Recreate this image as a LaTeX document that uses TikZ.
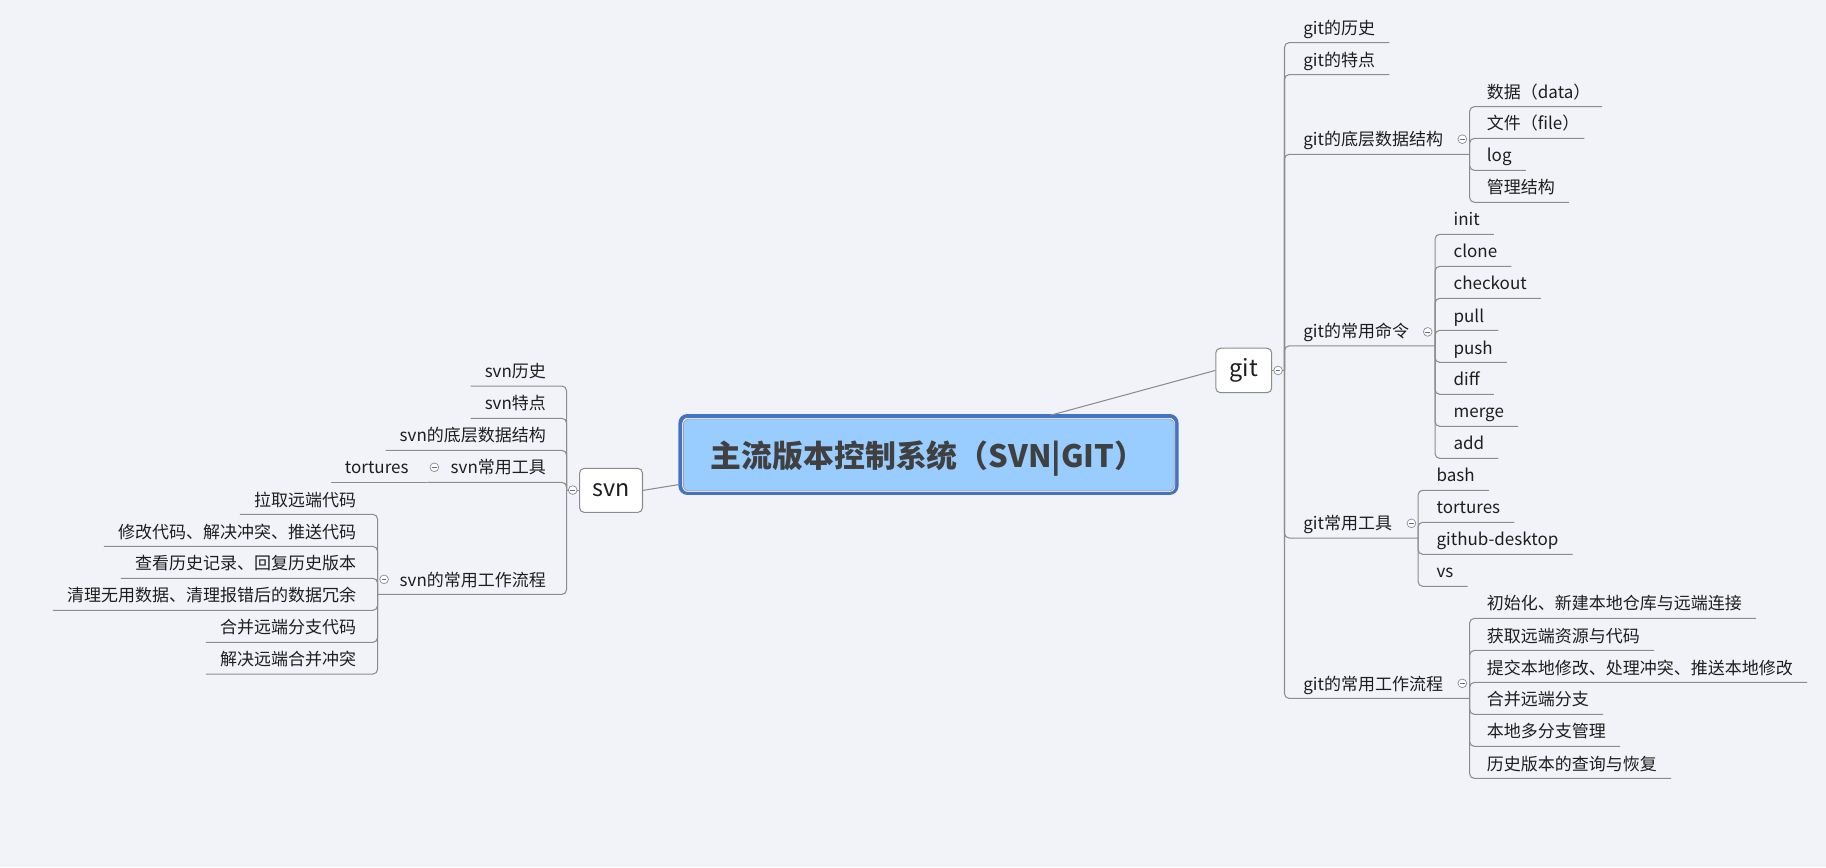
\documentclass[tikz,border=0pt]{standalone}
\usepackage{fontspec}
\setmainfont{Noto Sans CJK SC}
\definecolor{bg}{HTML}{F2F3F8}
\definecolor{linegray}{HTML}{8C8C8C}
\definecolor{txt}{HTML}{1E1E1E}
\definecolor{rootfill}{HTML}{99CCFF}
\definecolor{rootborder}{HTML}{4472C4}
\definecolor{roottext}{HTML}{404040}
\definecolor{minuscol}{HTML}{5070C0}
\begin{document}
\begin{tikzpicture}[x=1pt,y=-1pt,
  conn/.style={draw=linegray, line width=0.9pt, rounded corners=4pt},
  leaf/.style={inner xsep=0pt, inner ysep=0pt, text depth=7pt, text=txt, font=\fontsize{14.6}{17}\selectfont},
  rleaf/.style={leaf, anchor=south west},
  lleaf/.style={leaf, anchor=south east},
  topic/.style={draw=linegray, fill=white, rounded corners=4pt, line width=0.9pt, text=txt, font=\fontsize{20}{24}\selectfont, inner sep=0pt},
  toggle/.style={circle, draw=linegray, fill=white, line width=0.6pt, minimum size=7.5pt, inner sep=0pt,
    path picture={\draw[minuscol, line width=0.6pt] ([xshift=-2pt]path picture bounding box.center) -- ([xshift=2pt]path picture bounding box.center);}}
]
\fill[bg] (0,0) rectangle (1568,744.5);
\useasboundingbox (0,0) rectangle (1568,744.5);

% ---------- root ----------
\draw[rootborder, line width=3.4pt, rounded corners=6pt] (584.3,357.2) rectangle (1010.3,423.3);
\fill[white, rounded corners=5pt] (586,359) rectangle (1009,422.4);
\node[draw=linegray!80, fill=rootfill, rounded corners=5pt, line width=0.7pt,
      minimum width=421.6pt, minimum height=61.8pt, inner sep=0pt] (root) at (797.6,390.7) {};
\node[text=roottext, font=\bfseries\fontsize{26.5}{30}\selectfont, inner sep=0pt] (title) at (797,393.5) {主流版本控制系统（SVN|GIT）};

% ---------- main topics ----------
\node[topic, minimum width=48pt, minimum height=38.2pt] (git) at (1068,318.1) {git};
\node[topic, minimum width=54pt, minimum height=37.8pt] (svn) at (524.7,421.1) {svn};
\coordinate (rg) at (902,356.6);
\coordinate (rs) at (583.5,416);
\draw[linegray, line width=0.9pt] (rg) -- (git.west);
\draw[linegray, line width=0.9pt] (svn.east) -- (rs);

% ---------- git branch ----------
\coordinate (gJ) at (1103,318.1);
\draw[linegray, line width=0.9pt] (git.east) -- (gJ);

\node[rleaf] (g1) at (1119,36.6) {git的历史};
\node[rleaf] (g2) at (1119,64.1) {git的特点};
\node[rleaf] (g3) at (1119,132.5) {git的底层数据结构};
\node[rleaf] (g4) at (1119,297) {git的常用命令};
\node[rleaf] (g5) at (1119,462) {git常用工具};
\node[rleaf] (g6) at (1119,599.7) {git的常用工作流程};
\draw[conn] (gJ) |- ([xshift=12pt]g1.south east);
\draw[conn] (gJ) |- ([xshift=12pt]g2.south east);
\coordinate (g3J) at (1262,132.5);
\coordinate (g4J) at (1232.3,297);
\coordinate (g5J) at (1217.7,462);
\coordinate (g6J) at (1262,599.7);
\draw[conn] (gJ) |- (g3J);
\draw[conn] (gJ) |- (g4J);
\draw[conn] (gJ) |- (g5J);
\draw[conn] (gJ) |- (g6J);

% git data structure
\node[rleaf] (g31) at (1276.6,91.6) {数据（data）};
\node[rleaf] (g32) at (1276.6,118.8) {文件（file）};
\node[rleaf] (g33) at (1276.6,146.3) {log};
\node[rleaf] (g34) at (1276.6,173.7) {管理结构};
\draw[conn] (g3J) |- ([xshift=10pt]g31.south east);
\draw[conn] (g3J) |- ([xshift=4pt]g32.south east);
\draw[conn] (g3J) |- ([xshift=12pt]g33.south east);
\draw[conn] (g3J) |- ([xshift=12pt]g34.south east);

% git commands
\node[rleaf] (g41) at (1248,201.2) {init};
\node[rleaf] (g42) at (1248,228.7) {clone};
\node[rleaf] (g43) at (1248,256.2) {checkout};
\node[rleaf] (g44) at (1248,283.7) {pull};
\node[rleaf] (g45) at (1248,311.2) {push};
\node[rleaf] (g46) at (1248,338.6) {diff};
\node[rleaf] (g47) at (1248,366.1) {merge};
\node[rleaf] (g48) at (1248,393.6) {add};
\foreach \c in {g41,g42,g43,g44,g45,g46,g47,g48} \draw[conn] (g4J) |- ([xshift=12pt]\c.south east);

% git tools
\node[rleaf] (g51) at (1233.4,421) {bash};
\node[rleaf] (g52) at (1233.4,448.5) {tortures};
\node[rleaf] (g53) at (1233.4,476) {github-desktop};
\node[rleaf] (g54) at (1233.4,503.5) {vs};
\foreach \c in {g51,g52,g53,g54} \draw[conn] (g5J) |- ([xshift=12pt]\c.south east);

% git workflow
\node[rleaf] (g61) at (1276.6,531) {初始化、新建本地仓库与远端连接};
\node[rleaf] (g62) at (1276.6,558.5) {获取远端资源与代码};
\node[rleaf] (g63) at (1276.6,586) {提交本地修改、处理冲突、推送本地修改};
\node[rleaf] (g64) at (1276.6,613.4) {合并远端分支};
\node[rleaf] (g65) at (1276.6,640.9) {本地多分支管理};
\node[rleaf] (g66) at (1276.6,668.4) {历史版本的查询与恢复};
\foreach \c in {g61,g62,g63,g64,g65,g66} \draw[conn] (g6J) |- ([xshift=12pt]\c.south east);

% ---------- svn branch ----------
\coordinate (sJ) at (486.5,421.1);
\draw[linegray, line width=0.9pt] (svn.west) -- (sJ);

\node[lleaf] (s1) at (469,331.5) {svn历史};
\node[lleaf] (s2) at (469,359.2) {svn特点};
\node[lleaf] (s3) at (469,386.7) {svn的底层数据结构};
\node[lleaf] (s4) at (469,414.2) {svn常用工具};
\node[lleaf] (s5) at (469,510.4) {svn的常用工作流程};
\foreach \c in {s1,s2,s3} \draw[conn] (sJ) |- ([xshift=-12pt]\c.south west);
\coordinate (s4J) at (367,414.2);
\coordinate (s5J) at (324.2,510.4);
\draw[conn] (sJ) |- (s4J);
\draw[conn] (sJ) |- (s5J);

\node[lleaf] (s41) at (351,414.2) {tortures};
\draw[conn] (s4J) -- ([xshift=-12pt]s41.south west);

\node[lleaf] (s51) at (306,441.7) {拉取远端代码};
\node[lleaf] (s52) at (306,469.2) {修改代码、解决冲突、推送代码};
\node[lleaf] (s53) at (306,496.6) {查看历史记录、回复历史版本};
\node[lleaf] (s54) at (306,524.1) {清理无用数据、清理报错后的数据冗余};
\node[lleaf] (s55) at (306,551.6) {合并远端分支代码};
\node[lleaf] (s56) at (306,578.8) {解决远端合并冲突};
\foreach \c in {s51,s52,s53,s54,s55,s56} \draw[conn] (s5J) |- ([xshift=-12pt]\c.south west);

% ---------- collapse toggles ----------
\node[toggle] (tg) at (1097.5,318.1) {};
\node[toggle] (tg3) at (1255.7,119.5) {};
\node[toggle] (tg4) at (1226,285) {};
\node[toggle] (tg5) at (1212,449.4) {};
\node[toggle] (tg6) at (1255.7,586.8) {};
\node[toggle] (ts) at (491.8,420.8) {};
\node[toggle] (ts4) at (373,401.3) {};
\node[toggle] (ts5) at (329.8,497.5) {};
\end{tikzpicture}
\end{document}
